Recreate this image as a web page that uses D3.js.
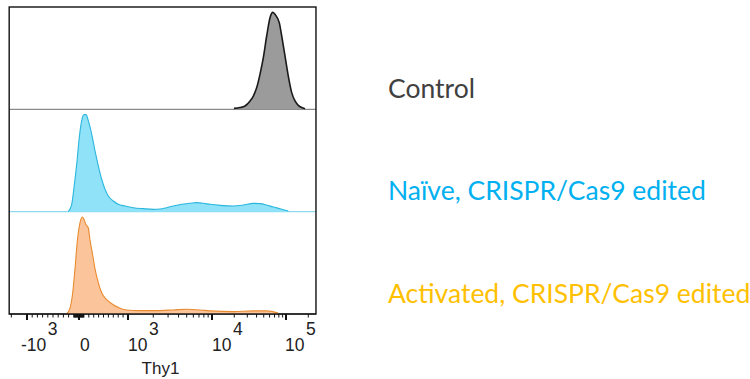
<!DOCTYPE html>
<html><head><meta charset="utf-8">
<script src="https://cdn.jsdelivr.net/npm/d3@7"></script>
<style>html,body{margin:0;padding:0;background:#fff;} svg{display:block;}</style>
</head><body>
<svg id="chart" width="750" height="379"></svg>
<script>
// ---------- data ----------
const seriesNames = ["Control", "Naïve, CRISPR/Cas9 edited", "Activated, CRISPR/Cas9 edited"];
// Thy1 intensity (bin centres) and % of mode
const controlX = [19800,23900,27900,32700,36200,40200,44500,49400,54800,60800,66100,71000,81100,87500,96900,107400,119400,132400,146600,162900,180600];
const controlY = [1.0,1.8,3.4,8.6,13.7,22.4,36.1,53.3,75.6,94.5,100,97.9,89.4,75.6,55,34.3,17.2,8.6,4.1,1.8,0.7];
const naiveX = [-206,-140,-96,-44,6,55,102,143,190,259,327,394,463,531,598,700,802,939,1157,1521,2000,2404,2890,3461,4357,5470,6574,7875,9467,12830,19410,26480,36140,44540,54850,67330,82980,107400];
const naiveY = [0,7.6,24.8,49,76.6,93.8,100,100,93.8,80,62.7,47.2,33.4,23.1,16.1,11,7.6,5.8,4.1,3.1,2.4,2.7,4.1,5.8,7.6,8.6,9.3,8.6,7.6,6.5,5.8,6.8,8.6,8.3,6.8,4.8,3.1,0.6];
const activatedX = [-237,-173,-121,-77,-33,20,67,102,143,190,224,280,327,394,463,565,700,837,973,1390,2196,3461,5000,7197,9467,19410,36140,54850,78700];
const activatedY = [0,6.0,21.9,46.5,74.7,94.0,100,97.5,92.2,88.7,76.4,60.6,46.5,32.4,21.9,14.8,9.5,6.0,4.2,3.5,3.5,4.2,4.9,4.2,3.2,2.4,3.2,3.2,1.1];
const xDomain = [-2200, 254000];
const majorTicks = [-1000, 0, 1000, 10000, 100000];
const tickLabels = [["-10","3"],["0",""],["10","3"],["10","4"],["10","5"]];
const axisTitle = "Thy1";

// ---------- layout ----------
const W = 750, H = 379;
const plot = {left: 9, right: 316, top: 7, bottom: 314};
const fills = ["#9b9b9b", "#8fe2f7", "#fbc49a"];
const strokes = ["#1a1a1a", "#2bb6de", "#e88b30"];
const baseColors = ["#8a8a8a", "#8fd9ee", "#111"];
const textColors = ["#404040", "#00b0f0", "#ffc000"];

// biexponential-like transform: linear within ±1000, log outside
function T(v){ const a = Math.abs(v); return a <= 1000 ? v/1000 : Math.sign(v)*(1+Math.log10(a/1000)); }
const pw = plot.right - plot.left;
const breakFrac = [0.0586, 0.228, 0.3876, 0.6612, 0.9023];
const xLin = d3.scaleLinear().domain([-1,0,1,2,3]).range(breakFrac.map(f => plot.left + f*pw));
const x = v => xLin(T(v));

const band = d3.scaleBand().domain(d3.range(3)).range([plot.top, plot.bottom]).padding(0);

const svg = d3.select("#chart");

const series = [
  {xs: controlX, ys: controlY},
  {xs: naiveX, ys: naiveY},
  {xs: activatedX, ys: activatedY}
];

series.forEach((s, i) => {
  const y = d3.scaleLinear().domain([0, 105.5]).range([band(i) + band.bandwidth(), band(i)]);
  const pts = s.xs.map((v, k) => [v, s.ys[k]]);
  const g = svg.append("g");
  g.append("line")
    .attr("x1", x(xDomain[0])).attr("x2", x(xDomain[1]))
    .attr("y1", y(0)).attr("y2", y(0))
    .attr("stroke", baseColors[i]).attr("stroke-width", 1.2);
  const area = d3.area().x(d => x(d[0])).y0(y(0)).y1(d => y(d[1])).curve(d3.curveMonotoneX);
  const line = d3.line().x(d => x(d[0])).y(d => y(d[1])).curve(d3.curveMonotoneX);
  g.append("path").datum(pts).attr("d", area).attr("fill", fills[i]);
  g.append("path").datum(pts).attr("d", line).attr("fill", "none")
    .attr("stroke", strokes[i]).attr("stroke-width", i === 0 ? 1.6 : 1.1).attr("stroke-linejoin", "round");
  svg.append("text")
    .attr("x", 388).attr("y", band(i) + band.bandwidth()*0.89)
    .attr("font-family", "Lato, 'Open Sans', sans-serif")
    .attr("font-size", 26.5)
    .attr("fill", textColors[i])
    .text(seriesNames[i]);
});

// frame
svg.append("rect")
  .attr("x", x(xDomain[0])).attr("y", plot.top)
  .attr("width", x(xDomain[1]) - x(xDomain[0])).attr("height", plot.bottom - plot.top)
  .attr("fill", "none").attr("stroke", "#111").attr("stroke-width", 1.4);

// minor ticks
const minor = [-2000];
for (let k = 1; k <= 9; k++) { minor.push(-k*100); minor.push(k*100); minor.push(-k*10); minor.push(k*10); }
for (let k = 2; k <= 9; k++) { minor.push(k*1000); minor.push(k*10000); }
minor.push(200000);
const axisG = svg.append("g");
axisG.selectAll("line.minor").data(minor).join("line").attr("class","minor")
  .attr("x1", d => x(d)).attr("x2", d => x(d))
  .attr("y1", plot.bottom).attr("y2", plot.bottom + 3.5)
  .attr("stroke", "#111").attr("stroke-width", 1);
axisG.selectAll("line.major").data(majorTicks).join("line").attr("class","major")
  .attr("x1", d => x(d)).attr("x2", d => x(d))
  .attr("y1", plot.bottom).attr("y2", plot.bottom + 6)
  .attr("stroke", "#111").attr("stroke-width", 2);

// tick labels
const labelOffsets = [-6, 1, 0, 0, -1];
majorTicks.forEach((v, i) => {
  const t = axisG.append("text")
    .attr("x", x(v) + labelOffsets[i]).attr("y", 351)
    .attr("font-family", "'Liberation Sans', Arial, sans-serif")
    .attr("font-size", 17.5).attr("fill", "#222");
  t.append("tspan").text(tickLabels[i][0]);
  if (tickLabels[i][1]) t.append("tspan").attr("dy", -16).attr("dx", 1.5).text(tickLabels[i][1]);
});

svg.append("text")
  .attr("x", (plot.left + plot.right)/2 - 2).attr("y", 374)
  .attr("text-anchor", "middle")
  .attr("font-family", "'Liberation Sans', Arial, sans-serif")
  .attr("font-size", 17).attr("fill", "#222")
  .text(axisTitle);
</script>
</body></html>
